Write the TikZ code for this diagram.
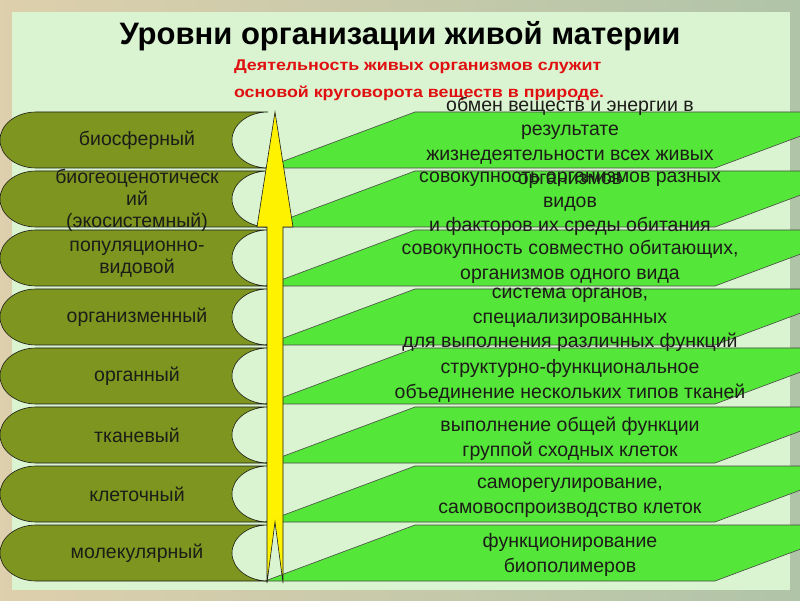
\documentclass[tikz,border=0pt]{standalone}
\usepackage{fontspec}
\setmainfont{Liberation Sans}
\definecolor{olive}{RGB}{126,150,32}
\definecolor{leafgreen}{RGB}{84,230,56}
\definecolor{panelbg}{RGB}{218,244,210}
\definecolor{framebg}{RGB}{176,196,168}
\definecolor{titlered}{RGB}{224,16,16}
\definecolor{ink}{RGB}{28,28,24}
\begin{document}
\begin{tikzpicture}[x=1pt, y=1pt,
  lvl/.style={fill=olive, draw=ink, line width=0.6pt},
  fnc/.style={fill=leafgreen, draw=ink!80, line width=0.6pt},
  lvltext/.style={align=center, text=ink, font=\fontsize{19.5}{22}\selectfont},
  fnctext/.style={align=center, text=ink, font=\fontsize{19.5}{24.5}\selectfont}]
\useasboundingbox (0,0) rectangle (800,600);
\clip (0,0) rectangle (800,600);
\shade[left color=framebg!70!orange!60, right color=framebg] (0,0) rectangle (800,600);
\fill[panelbg] (12,10) rectangle (790,588);
\node[font=\bfseries\fontsize{31}{34}\selectfont, text=black] (title) at (400,564) {Уровни организации живой материи};
\node[anchor=west, align=left, xscale=1.15, font=\bfseries\fontsize{15.5}{27}\selectfont, text=titlered] (note) at (230,520) {Деятельность живых организмов служит\\основой круговорота веществ в природе.};
\draw[fnc] (265,432) -- (415,488) -- (865,488) -- (715,432) -- cycle;
\draw[fnc] (265,373) -- (415,429) -- (865,429) -- (715,373) -- cycle;
\draw[fnc] (265,314) -- (415,370) -- (865,370) -- (715,314) -- cycle;
\draw[fnc] (265,255) -- (415,311) -- (865,311) -- (715,255) -- cycle;
\draw[fnc] (265,196) -- (415,252) -- (865,252) -- (715,196) -- cycle;
\draw[fnc] (265,137) -- (415,193) -- (865,193) -- (715,137) -- cycle;
\draw[fnc] (265,78) -- (415,134) -- (865,134) -- (715,78) -- cycle;
\draw[fnc] (265,19) -- (415,75) -- (865,75) -- (715,19) -- cycle;
\draw[lvl] (36,488) -- (268,488) arc (90:270:36 and 28) -- (36,432) arc (270:90:36 and 28) -- cycle;
\draw[lvl] (36,429) -- (268,429) arc (90:270:36 and 28) -- (36,373) arc (270:90:36 and 28) -- cycle;
\draw[lvl] (36,370) -- (268,370) arc (90:270:36 and 28) -- (36,314) arc (270:90:36 and 28) -- cycle;
\draw[lvl] (36,311) -- (268,311) arc (90:270:36 and 28) -- (36,255) arc (270:90:36 and 28) -- cycle;
\draw[lvl] (36,252) -- (268,252) arc (90:270:36 and 28) -- (36,196) arc (270:90:36 and 28) -- cycle;
\draw[lvl] (36,193) -- (268,193) arc (90:270:36 and 28) -- (36,137) arc (270:90:36 and 28) -- cycle;
\draw[lvl] (36,134) -- (268,134) arc (90:270:36 and 28) -- (36,78) arc (270:90:36 and 28) -- cycle;
\draw[lvl] (36,75) -- (268,75) arc (90:270:36 and 28) -- (36,19) arc (270:90:36 and 28) -- cycle;
\draw[fill=yellow, draw=ink, line width=0.6pt] (275,488) -- (293,373) -- (283,373) -- (283,17) -- (275,78) -- (267,17) -- (267,373) -- (257,373) -- cycle;
\node[lvltext] (lvl0) at (137,460) {биосферный};
\node[lvltext] (lvl1) at (137,400) {биогеоценотическ\\ий\\(экосистемный)};
\node[lvltext] (lvl2) at (137,341) {популяционно-\\видовой};
\node[lvltext] (lvl3) at (137,283) {организменный};
\node[lvltext] (lvl4) at (137,224) {органный};
\node[lvltext] (lvl5) at (137,165) {тканевый};
\node[lvltext] (lvl6) at (137,106) {клеточный};
\node[lvltext] (lvl7) at (137,47) {молекулярный};
\node[fnctext] (fnc0) at (570,457) {обмен веществ и энергии в\\результате\\жизнедеятельности всех живых\\организмов};
\node[fnctext] (fnc1) at (570,396) {совокупность организмов разных\\видов\\и факторов их среды обитания};
\node[fnctext] (fnc2) at (570,338) {совокупность совместно обитающих,\\организмов одного вида};
\node[fnctext] (fnc3) at (570,280) {система органов,\\специализированных\\для выполнения различных функций};
\node[fnctext] (fnc4) at (570,219) {структурно-функциональное\\объединение нескольких типов тканей};
\node[fnctext] (fnc5) at (570,161) {выполнение общей функции\\группой сходных клеток};
\node[fnctext] (fnc6) at (570,102) {саморегулирование,\\самовоспроизводство клеток};
\node[fnctext] (fnc7) at (570,45) {функционирование\\биополимеров};
\end{tikzpicture}
\end{document}
